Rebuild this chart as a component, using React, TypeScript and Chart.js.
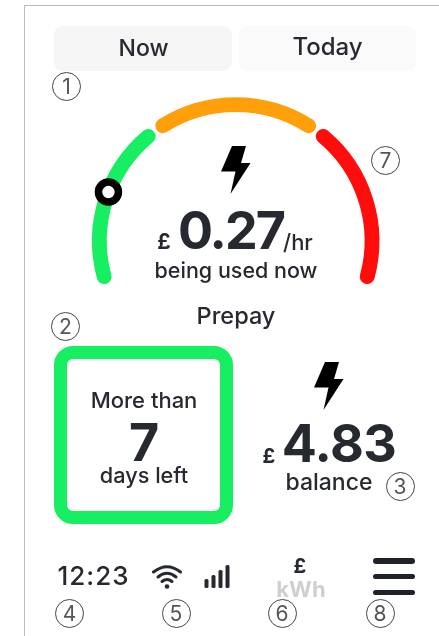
import React, { useEffect, useRef } from "react";
import { Chart, registerables } from "chart.js";

Chart.register(...registerables);

const gaugeBands = ["low", "medium", "high"];
const gaugeSpans = [72.85, 72.3, 72.85];
const gaugeColors = ["#17ee62", "#ff9f0a", "#ff0d0d"];
const gaugeMarker = [40];
const FONT = "Inter, 'Noto Sans', sans-serif";
const INK = "#262a30";

const markerPlugin = {
  id: "marker",
  afterDatasetsDraw(chart: any) {
    const arc = chart.getDatasetMeta(0).data[0];
    const total = gaugeSpans.reduce((a, b) => a + b, 0);
    const angle = (-109 - 90 + (gaugeMarker[0] / total) * 218) * (Math.PI / 180);
    const r = (arc.innerRadius + arc.outerRadius) / 2 + 2.5;
    const { ctx } = chart;
    ctx.save();
    ctx.beginPath();
    ctx.arc(arc.x + Math.cos(angle) * r, arc.y + Math.sin(angle) * r, 10, 0, Math.PI * 2);
    ctx.fillStyle = "#fff";
    ctx.fill();
    ctx.lineWidth = 7.5;
    ctx.strokeStyle = "#000";
    ctx.stroke();
    ctx.restore();
  },
};

function T({ x, y, size, w = 500, color = INK, align = "center", ls = 0, children }: any) {
  const tx = align === "center" ? "-50%" : align === "right" ? "-100%" : "0";
  return (
    <div
      style={{
        position: "absolute",
        left: x,
        top: y - 0.364 * size,
        lineHeight: 0,
        fontFamily: FONT,
        fontSize: size,
        fontWeight: w,
        color,
        letterSpacing: ls,
        whiteSpace: "nowrap",
        transform: `translateX(${tx})`,
      }}
    >
      {children}
    </div>
  );
}

function Badge({ x, y, n }: any) {
  return (
    <div
      style={{
        position: "absolute",
        left: x - 14.5,
        top: y - 14.5,
        width: 27,
        height: 27,
        border: "1px solid #444",
        borderRadius: "50%",
        display: "flex",
        alignItems: "center",
        justifyContent: "center",
        fontFamily: FONT,
        fontSize: 21,
        color: "#555",
      }}
    >
      {n}
    </div>
  );
}

function Bolt({ x, y }: any) {
  return (
    <svg style={{ position: "absolute", left: x, top: y }} width="30" height="49" viewBox="0 0 30 49">
      <path d="M11 0 L25 0 L20 17 L29.5 17 L9.5 48 L14.5 25.5 L0 25.5 Z" fill="#000" />
    </svg>
  );
}

export default function App() {
  const ref = useRef<HTMLCanvasElement>(null);
  useEffect(() => {
    const chart = new Chart(ref.current as HTMLCanvasElement, {
      type: "doughnut",
      data: {
        labels: gaugeBands,
        datasets: [
          {
            data: gaugeSpans,
            backgroundColor: gaugeColors,
            borderWidth: 0,
            borderRadius: 7.4,
            spacing: 5,
          },
        ],
      },
      options: {
        responsive: false,
        animation: false,
        rotation: -109,
        circumference: 218,
        cutout: "89.5%",
        layout: { padding: { left: 91.1, right: 58.7, top: 97.2, bottom: 346.6 } },
        plugins: { legend: { display: false }, tooltip: { enabled: false } },
      },
      plugins: [markerPlugin],
    } as any);
    return () => chart.destroy();
  }, []);

  return (
    <div style={{ position: "absolute", left: 0, top: 0, width: 439, height: 636, overflow: "hidden", background: "#fff" }}>
      <div style={{ position: "absolute", left: 24, top: 5, width: 420, height: 640, borderLeft: "1px solid #bbb", borderTop: "1px solid #bbb" }} />
      <div style={{ position: "absolute", left: 54, top: 26, width: 178, height: 45, borderRadius: 9, background: "#f5f5f5" }} />
      <div style={{ position: "absolute", left: 239, top: 26, width: 177, height: 45, borderRadius: 9, background: "#fafafa" }} />
      <canvas ref={ref} width={439} height={636} style={{ position: "absolute", left: 0, top: 0, display: "block" }} />

      <T x={143.5} y={56} size={23}>Now</T>
      <T x={327.5} y={56} size={24}>Today</T>

      <Bolt x={221} y={146} />
      <T x={164} y={250} size={21} w={700}>£</T>
      <T x={231} y={250} size={52} w={700} ls={-2}>0.27</T>
      <T x={283} y={250} size={22} align="left">/hr</T>
      <T x={236} y={278} size={21.5}>being used now</T>
      <T x={236} y={325} size={23.5}>Prepay</T>

      <div style={{ position: "absolute", left: 54, top: 346, width: 153, height: 152, border: "13px solid #17ee62", borderRadius: 19 }} />
      <T x={144} y={408} size={22}>More than</T>
      <T x={144} y={462} size={52} w={700}>7</T>
      <T x={144} y={483} size={21.7}>days left</T>

      <Bolt x={314} y={362} />
      <T x={269} y={463} size={20} w={700}>£</T>
      <T x={339} y={463} size={52} w={700} ls={-0.5}>4.83</T>
      <T x={329} y={490} size={23}>balance</T>

      <T x={93.5} y={585} size={26} ls={1}>12:23</T>
      <svg style={{ position: "absolute", left: 150, top: 563 }} width="34" height="27" viewBox="0 0 34 27">
        <g fill="none" stroke="#262a30" strokeWidth="3" strokeLinecap="round">
          <path d="M3.5 9 Q17 -1.5 30.5 9" />
          <path d="M8 14 Q17 6.5 26 14" />
          <path d="M12 18.5 Q17 14.5 22 18.5" />
        </g>
        <circle cx="17" cy="23.5" r="2.3" fill="#262a30" />
      </svg>
      <svg style={{ position: "absolute", left: 204, top: 564 }} width="27" height="25" viewBox="0 0 27 25">
        <g fill="#262a30">
          <rect x="0.5" y="15" width="4" height="9" rx="1.5" />
          <rect x="7.5" y="11" width="4" height="13" rx="1.5" />
          <rect x="14.5" y="6" width="4" height="18" rx="1.5" />
          <rect x="21.5" y="1" width="4" height="23" rx="1.5" />
        </g>
      </svg>
      <T x={300} y={573} size={20} w={700}>£</T>
      <T x={301} y={597} size={22} w={700} color="#cfcfcf">kWh</T>
      <div style={{ position: "absolute", left: 373, top: 558, width: 42, height: 5.5, borderRadius: 3, background: "#1f2329" }} />
      <div style={{ position: "absolute", left: 373, top: 573.5, width: 42, height: 5.5, borderRadius: 3, background: "#1f2329" }} />
      <div style={{ position: "absolute", left: 373, top: 589.5, width: 42, height: 5.5, borderRadius: 3, background: "#1f2329" }} />

      <Badge x={66.5} y={86} n="1" />
      <Badge x={385.5} y={160} n="7" />
      <Badge x={65.5} y={326} n="2" />
      <Badge x={400} y={486} n="3" />
      <Badge x={69.5} y={613} n="4" />
      <Badge x={176} y={613} n="5" />
      <Badge x={282} y={613} n="6" />
      <Badge x={380} y={613} n="8" />
    </div>
  );
}
